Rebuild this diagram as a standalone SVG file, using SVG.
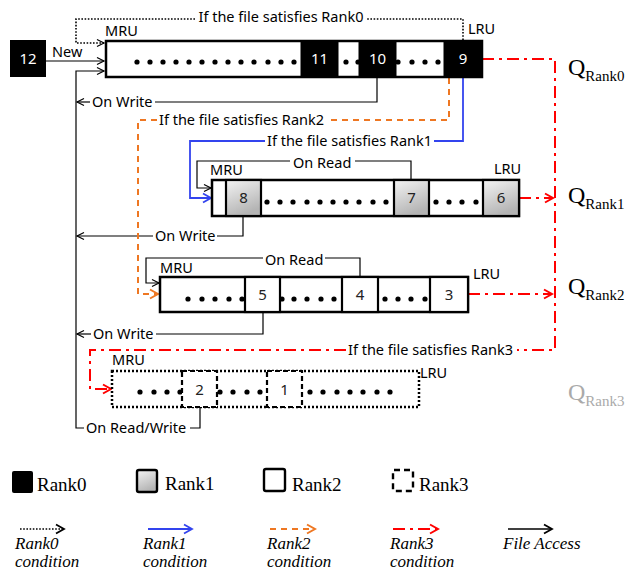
<svg xmlns="http://www.w3.org/2000/svg" width="631" height="570" viewBox="0 0 631 570">
<style>
.s{font-family:"Noto Sans","Open Sans",sans-serif;font-size:14.5px;fill:#000}
.w{font-family:"Noto Sans","Open Sans",sans-serif;font-size:15px;fill:#fff}
.n{font-family:"Noto Sans","Open Sans",sans-serif;font-size:15px;fill:#222}
.q{font-family:"Liberation Serif","Times New Roman",serif;font-size:24px;fill:#000}
.qs{font-size:15px}
.lg{font-family:"Liberation Serif","Times New Roman",serif;font-size:19px;fill:#000}
.li{font-family:"Liberation Serif","Times New Roman",serif;font-size:17px;font-style:italic;fill:#000}
.k{fill:none;stroke:#000;stroke-width:1.2}
.dot0{fill:none;stroke:#000;stroke-width:1.6;stroke-dasharray:1.6 1.6}
.bl{fill:none;stroke:#3344ee;stroke-width:1.8}
.or{fill:none;stroke:#ee7722;stroke-width:2;stroke-dasharray:6 5}
.rd{fill:none;stroke:#ff0000;stroke-width:2;stroke-dasharray:12 5 3 5}
.box{fill:#fff;stroke:#000;stroke-width:2.5}
.blk{fill:#000;stroke:#000;stroke-width:1}
.gc{fill:url(#gg);stroke:#000;stroke-width:2.2}
.wc{fill:#fff;stroke:#000;stroke-width:2.2}
.dc{fill:#fff;stroke:#000;stroke-width:2.2;stroke-dasharray:5 3}
.d{fill:#000}
</style>
<defs>
<linearGradient id="gg" x1="0" y1="0" x2="0.4" y2="1">
<stop offset="0" stop-color="#f4f4f4"/>
<stop offset="1" stop-color="#b4b4b4"/>
</linearGradient>
<marker id="ak" markerUnits="userSpaceOnUse" markerWidth="12" markerHeight="12" refX="10" refY="6" orient="auto" viewBox="0 0 12 12"><path d="M3,2.5 L10,6 L3,9.5" fill="none" stroke="#000" stroke-width="1.2"/></marker>
<marker id="akL" markerUnits="userSpaceOnUse" markerWidth="12" markerHeight="12" refX="10" refY="6" orient="auto" viewBox="0 0 12 12"><path d="M2,1.5 L10,6 L2,10.5" fill="none" stroke="#000" stroke-width="1.8"/></marker>
<marker id="ab" markerUnits="userSpaceOnUse" markerWidth="12" markerHeight="12" refX="10" refY="6" orient="auto" viewBox="0 0 12 12"><path d="M2,1.5 L10,6 L2,10.5" fill="none" stroke="#3344ee" stroke-width="1.8"/></marker>
<marker id="ao" markerUnits="userSpaceOnUse" markerWidth="12" markerHeight="12" refX="10" refY="6" orient="auto" viewBox="0 0 12 12"><path d="M2,1.5 L10,6 L2,10.5" fill="none" stroke="#ee7722" stroke-width="2"/></marker>
<marker id="ar" markerUnits="userSpaceOnUse" markerWidth="12" markerHeight="12" refX="10" refY="6" orient="auto" viewBox="0 0 12 12"><path d="M2,1.5 L10,6 L2,10.5" fill="none" stroke="#ff0000" stroke-width="2"/></marker>
</defs>
<rect width="631" height="570" fill="#fff"/>

<g id="connectors">
<path class="dot0" d="M463,40 V19 H367"/>
<path class="dot0" d="M195,19 H76 V43 H104" marker-end="url(#ak)"/>
<text class="s" x="281" y="22" text-anchor="middle">If the file satisfies Rank0</text>
<path class="k" d="M46,61 H104" marker-end="url(#ak)"/>
<text class="s" x="52" y="57">New</text>
<path class="k" d="M200,407 V428 H190"/>
<path class="k" d="M84,428 H76 V71 H104" marker-end="url(#ak)"/>
<text class="s" x="86" y="433">On Read/Write</text>
<path class="k" d="M377,77 V102 H155"/>
<path class="k" d="M90,102 H77" marker-end="url(#ak)"/>
<text class="s" x="92" y="107">On Write</text>
<path class="k" d="M243,216 V236 H217"/>
<path class="k" d="M153,236 H77" marker-end="url(#ak)"/>
<text class="s" x="155" y="241">On Write</text>
<path class="k" d="M263,312 V334 H156"/>
<path class="k" d="M91,334 H77" marker-end="url(#ak)"/>
<text class="s" x="93" y="339">On Write</text>
<path class="bl" d="M463,78 V141 H434"/>
<path class="bl" d="M265,141 H190 V198 H211" marker-end="url(#ab)"/>
<text class="s" x="267" y="146">If the file satisfies Rank1</text>
<path class="or" d="M449,78 V120 H327"/>
<path class="or" d="M157,120 H138 V294 H158" marker-end="url(#ao)"/>
<text class="s" x="159" y="125">If the file satisfies Rank2</text>
<path class="k" d="M411,180 V161 H355"/>
<path class="k" d="M290,161 H197 V188 H211" marker-end="url(#ak)"/>
<text class="s" x="293" y="168">On Read</text>
<path class="k" d="M360,277 V258 H325"/>
<path class="k" d="M263,258 H146 V283 H159" marker-end="url(#ak)"/>
<text class="s" x="265" y="265">On Read</text>
<path class="rd" d="M482,59 H555 V350 H517"/>
<path class="rd" d="M346,350 H90 V389 H111" marker-end="url(#ar)"/>
<text class="s" x="348" y="355">If the file satisfies Rank3</text>
<path class="rd" d="M519,198 H553" marker-end="url(#ar)"/>
<path class="rd" d="M468,294 H552" marker-end="url(#ar)"/>
</g>

<g id="file12">
<rect x="10" y="40" width="36" height="37" fill="#000"/>
<text class="w" x="28" y="64" text-anchor="middle">12</text>
</g>

<g id="queue-rank0">
<rect class="box" x="106" y="41" width="376" height="36"/>
<text class="s" x="105" y="36">MRU</text>
<text class="s" x="468" y="34">LRU</text>
<g class="d">
<circle cx="137" cy="62" r="2.6"/><circle cx="150" cy="62" r="2.6"/><circle cx="163" cy="62" r="2.6"/><circle cx="176" cy="62" r="2.6"/><circle cx="189" cy="62" r="2.6"/><circle cx="202" cy="62" r="2.6"/><circle cx="215" cy="62" r="2.6"/><circle cx="228" cy="62" r="2.6"/><circle cx="241" cy="62" r="2.6"/><circle cx="254" cy="62" r="2.6"/><circle cx="268" cy="62" r="2.6"/><circle cx="281" cy="62" r="2.6"/><circle cx="294" cy="62" r="2.6"/>
<circle cx="346" cy="62" r="2.6"/><circle cx="358" cy="62" r="2.6"/>
<circle cx="398" cy="62" r="2.6"/><circle cx="412" cy="62" r="2.6"/><circle cx="425" cy="62" r="2.6"/><circle cx="438" cy="62" r="2.6"/>
</g>
<rect class="blk" x="301" y="41" width="37" height="36"/>
<text class="w" x="319.5" y="64" text-anchor="middle">11</text>
<rect class="blk" x="359" y="41" width="37" height="36"/>
<text class="w" x="377.5" y="64" text-anchor="middle">10</text>
<rect class="blk" x="444" y="41" width="38" height="36"/>
<text class="w" x="463" y="64" text-anchor="middle">9</text>
</g>

<g id="queue-rank1">
<rect class="box" x="212" y="180" width="307" height="36"/>
<text class="s" x="210" y="175">MRU</text>
<text class="s" x="494" y="174">LRU</text>
<g class="d">
<circle cx="267" cy="202" r="2.6"/><circle cx="280" cy="202" r="2.6"/><circle cx="293" cy="202" r="2.6"/><circle cx="307" cy="202" r="2.6"/><circle cx="320" cy="202" r="2.6"/><circle cx="333" cy="202" r="2.6"/><circle cx="346" cy="202" r="2.6"/><circle cx="359" cy="202" r="2.6"/><circle cx="373" cy="202" r="2.6"/><circle cx="386" cy="202" r="2.6"/>
<circle cx="436" cy="202" r="2.6"/><circle cx="449" cy="202" r="2.6"/><circle cx="462" cy="202" r="2.6"/><circle cx="476" cy="202" r="2.6"/>
</g>
<rect class="gc" x="226" y="180" width="35" height="36"/>
<text class="n" x="243.5" y="203" text-anchor="middle">8</text>
<rect class="gc" x="394" y="180" width="35" height="36"/>
<text class="n" x="411.5" y="203" text-anchor="middle">7</text>
<rect class="gc" x="483" y="180" width="36" height="36"/>
<text class="n" x="501" y="203" text-anchor="middle">6</text>
</g>

<g id="queue-rank2">
<rect class="box" x="160" y="277" width="308" height="35"/>
<text class="s" x="160" y="273">MRU</text>
<text class="s" x="473" y="279">LRU</text>
<g class="d">
<circle cx="188" cy="299" r="2.6"/><circle cx="202" cy="299" r="2.6"/><circle cx="215" cy="299" r="2.6"/><circle cx="229" cy="299" r="2.6"/><circle cx="242" cy="299" r="2.6"/>
<circle cx="282" cy="299" r="2.6"/><circle cx="294" cy="299" r="2.6"/><circle cx="307" cy="299" r="2.6"/><circle cx="321" cy="299" r="2.6"/><circle cx="334" cy="299" r="2.6"/>
<circle cx="385" cy="299" r="2.6"/><circle cx="398" cy="299" r="2.6"/><circle cx="411" cy="299" r="2.6"/><circle cx="425" cy="299" r="2.6"/>
</g>
<rect class="wc" x="245" y="277" width="35" height="35"/>
<text class="n" x="262.5" y="300" text-anchor="middle">5</text>
<rect class="wc" x="342" y="277" width="36" height="35"/>
<text class="n" x="360" y="300" text-anchor="middle">4</text>
<rect class="wc" x="430" y="277" width="38" height="35"/>
<text class="n" x="449" y="300" text-anchor="middle">3</text>
</g>

<g id="queue-rank3">
<rect x="112" y="371" width="307" height="36" fill="#fff" stroke="#000" stroke-width="2.5" stroke-dasharray="2 2"/>
<text class="s" x="112" y="365">MRU</text>
<text class="s" x="420" y="378">LRU</text>
<g class="d">
<circle cx="140" cy="392" r="2.6"/><circle cx="154" cy="392" r="2.6"/><circle cx="167" cy="392" r="2.6"/><circle cx="180" cy="392" r="2.6"/>
<circle cx="220" cy="392" r="2.6"/><circle cx="233" cy="392" r="2.6"/><circle cx="247" cy="392" r="2.6"/><circle cx="260" cy="392" r="2.6"/>
<circle cx="310" cy="392" r="2.6"/><circle cx="323" cy="392" r="2.6"/><circle cx="337" cy="392" r="2.6"/><circle cx="350" cy="392" r="2.6"/><circle cx="363" cy="392" r="2.6"/><circle cx="377" cy="392" r="2.6"/><circle cx="390" cy="392" r="2.6"/>
</g>
<rect class="dc" x="182" y="371" width="35" height="36"/>
<text class="n" x="199.5" y="395" text-anchor="middle">2</text>
<rect class="dc" x="267" y="371" width="35" height="36"/>
<text class="n" x="284.5" y="395" text-anchor="middle">1</text>
</g>

<g id="q-labels">
<text class="q" x="568" y="75">Q<tspan class="qs" dy="6">Rank0</tspan></text>
<text class="q" x="568" y="203">Q<tspan class="qs" dy="6">Rank1</tspan></text>
<text class="q" x="568" y="294">Q<tspan class="qs" dy="6">Rank2</tspan></text>
<text class="q" x="568" y="400" style="fill:#aaaaaa">Q<tspan class="qs" dy="6">Rank3</tspan></text>
</g>

<g id="legend">
<rect x="12" y="471" width="21" height="22" rx="2" fill="#000"/>
<text class="lg" x="37" y="491">Rank0</text>
<rect x="137" y="470" width="20" height="22" rx="2" fill="url(#gg)" stroke="#000" stroke-width="2.4"/>
<text class="lg" x="165" y="490">Rank1</text>
<rect x="264" y="469" width="21" height="22" rx="2" fill="#fff" stroke="#000" stroke-width="2.4"/>
<text class="lg" x="292" y="491">Rank2</text>
<rect x="393" y="470" width="20" height="21" rx="1" fill="#fff" stroke="#000" stroke-width="2.4" stroke-dasharray="6 4"/>
<text class="lg" x="419" y="491">Rank3</text>
<path class="dot0" d="M20,529 H64" marker-end="url(#akL)"/>
<path class="bl" d="M148,529 H192" marker-end="url(#ab)"/>
<path class="or" d="M270,529 H315" marker-end="url(#ao)"/>
<path class="rd" d="M393,529 H438" marker-end="url(#ar)"/>
<path d="M508,529 H552" fill="none" stroke="#000" stroke-width="1.6" marker-end="url(#akL)"/>
<text class="li" x="15" y="549">Rank0</text>
<text class="li" x="15" y="567">condition</text>
<text class="li" x="143" y="549">Rank1</text>
<text class="li" x="143" y="567">condition</text>
<text class="li" x="267" y="549">Rank2</text>
<text class="li" x="267" y="567">condition</text>
<text class="li" x="390" y="549">Rank3</text>
<text class="li" x="390" y="567">condition</text>
<text class="li" x="503" y="549">File Access</text>
</g>
</svg>
